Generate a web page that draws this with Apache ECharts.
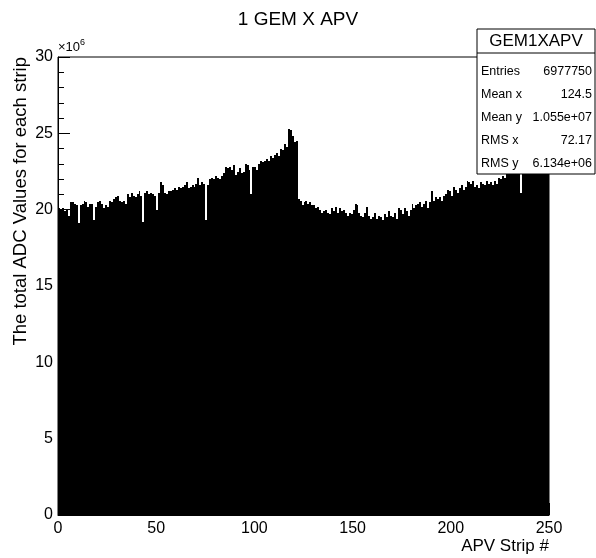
<!DOCTYPE html>
<html>
<head>
<meta charset="utf-8">
<script src="https://cdn.jsdelivr.net/npm/echarts@6/dist/echarts.min.js"></script>
<style>
html,body{margin:0;padding:0;background:#fff;}
#c{width:596px;height:558px;}
</style>
</head>
<body>
<div id="c"></div>
<script>
// Total ADC values per APV strip (units of 1e6), bins 0..249
const strips = Array.from({length: 250}, (_, i) => i);
const adcValues = [
  20.1, 20.0, 20.1, 19.9, 20.0, 19.6, 20.5, 20.5, 20.4, 20.3,
  19.1, 20.3, 20.4, 20.6, 20.5, 20.2, 20.4, 20.4, 19.3, 20.2,
  20.5, 20.6, 20.4, 20.1, 20.3, 20.2, 20.6, 20.5, 20.7, 20.8,
  20.9, 20.6, 20.5, 20.6, 20.4, 21.0, 20.8, 21.1, 20.9, 20.8,
  21.0, 21.2, 20.9, 19.2, 21.1, 21.2, 21.0, 21.1, 21.0, 20.9,
  20.0, 21.1, 21.8, 21.6, 21.1, 21.0, 21.2, 21.2, 21.3, 21.4,
  21.3, 21.5, 21.4, 21.5, 21.6, 21.8, 21.4, 21.5, 21.6, 21.5,
  21.7, 22.1, 21.6, 21.8, 21.7, 19.3, 21.6, 22.0, 22.1, 22.0,
  22.2, 22.1, 22.0, 22.2, 22.4, 22.8, 22.7, 22.8, 22.6, 22.9,
  22.3, 22.5, 22.7, 22.4, 22.5, 23.0, 22.9, 22.6, 21.0, 22.8,
  22.8, 22.6, 23.0, 23.2, 23.1, 23.2, 23.3, 23.2, 23.5, 23.4,
  23.6, 23.7, 23.5, 24.0, 23.9, 24.3, 24.1, 25.3, 25.2, 24.8,
  24.4, 24.5, 20.7, 20.6, 20.3, 20.5, 20.6, 20.4, 20.5, 20.3,
  20.3, 20.1, 20.2, 20.0, 19.8, 19.9, 20.0, 19.8, 19.7, 20.1,
  19.9, 20.2, 19.8, 20.1, 19.9, 20.0, 19.8, 19.6, 19.8, 19.7,
  20.0, 20.4, 20.3, 19.8, 19.6, 19.5, 19.8, 20.2, 19.6, 19.4,
  19.5, 19.8, 19.4, 19.6, 19.5, 19.3, 19.7, 19.5, 19.9, 19.6,
  19.5, 19.8, 19.4, 20.1, 20.0, 19.7, 20.1, 19.9, 19.6, 20.0,
  20.4, 20.1, 20.3, 20.4, 20.5, 20.2, 20.4, 20.6, 20.1, 20.5,
  21.2, 20.6, 20.8, 20.7, 20.8, 20.6, 20.9, 21.0, 21.3, 21.2,
  20.9, 21.5, 21.3, 21.1, 21.4, 21.6, 21.3, 21.5, 21.9, 21.8,
  21.7, 21.9, 21.5, 21.6, 21.4, 21.8, 21.7, 21.6, 21.9, 21.7,
  21.8, 21.6, 21.9, 21.7, 22.1, 22.0, 22.2, 22.1, 22.6, 22.8,
  22.7, 23.0, 22.9, 23.1, 22.8, 21.1, 23.0, 22.9, 23.2, 23.1,
  23.3, 23.0, 23.4, 23.2, 23.5, 23.3, 23.6, 23.4, 23.5, 23.7
];
const yTicks = [0, 5, 10, 15, 20, 25, 30];
const xTicks = [0, 50, 100, 150, 200, 250];
const statsLabels = ['Entries', 'Mean x', 'Mean y', 'RMS x', 'RMS y'];
const statsValues = ['6977750', '124.5', '1.055e+07', '72.17', '6.134e+06'];

const histData = strips.map((s, i) => [s, adcValues[i]]);

const FONT = 'Liberation Sans, Arial, Helvetica, sans-serif';
const chart = echarts.init(document.getElementById('c'), null, {renderer: 'canvas'});

const gL = 58, gT = 57, gR = 549, gB = 515;
const ZB = 100;

const statsChildren = [
  {type: 'rect', z: ZB, shape: {x: 477, y: 29, width: 118, height: 145},
   style: {fill: '#fff', stroke: '#000', lineWidth: 1}},
  {type: 'line', z: ZB + 1, shape: {x1: 477, y1: 53, x2: 595, y2: 53}, style: {stroke: '#000', lineWidth: 1}},
  {type: 'text', z: ZB + 1, x: 536, y: 41, style: {text: 'GEM1XAPV', font: '17px ' + FONT, fill: '#000', align: 'center', verticalAlign: 'middle'}}
];
statsLabels.forEach((lab, i) => {
  const y = 72 + i * 22.8;
  statsChildren.push({type: 'text', z: ZB + 1, x: 481, y: y, style: {text: lab, font: '12.5px ' + FONT, fill: '#000', align: 'left', verticalAlign: 'middle'}});
  statsChildren.push({type: 'text', z: ZB + 1, x: 592, y: y, style: {text: statsValues[i], font: '12.5px ' + FONT, fill: '#000', align: 'right', verticalAlign: 'middle'}});
});

chart.setOption({
  animation: false,
  backgroundColor: '#fff',
  title: {
    text: '1 GEM X APV', left: 'center', top: 5,
    textStyle: {fontFamily: FONT, fontWeight: 'normal', fontSize: 19, color: '#000'}
  },
  grid: {left: gL, top: gT, right: 596 - gR, bottom: 558 - gB, show: true, borderColor: '#000', borderWidth: 1, backgroundColor: 'transparent'},
  xAxis: {
    type: 'value', min: 0, max: 250, interval: 50,
    axisLine: {show: true, lineStyle: {color: '#000', width: 1}},
    axisTick: {show: true, inside: true, length: 12, lineStyle: {color: '#000'}},
    minorTick: {show: true, splitNumber: 5, length: 6, lineStyle: {color: '#000'}},
    splitLine: {show: false},
    axisLabel: {color: '#000', fontFamily: FONT, fontSize: 16, margin: 6,
      formatter: v => xTicks.includes(v) ? String(v) : ''}
  },
  yAxis: {
    type: 'value', min: 0, max: 30, interval: 5,
    axisLine: {show: true, lineStyle: {color: '#000', width: 1}},
    axisTick: {show: true, inside: true, length: 12, lineStyle: {color: '#000'}},
    minorTick: {show: true, splitNumber: 5, length: 6, lineStyle: {color: '#000'}},
    splitLine: {show: false},
    axisLabel: {color: '#000', fontFamily: FONT, fontSize: 16, margin: 5,
      formatter: v => yTicks.includes(v) ? String(v) : ''}
  },
  series: [{
    type: 'custom',
    data: histData,
    encode: {x: 0, y: 1},
    z: 2,
    renderItem: function (params, api) {
      const x0 = api.value(0);
      const v = api.value(1);
      const p0 = api.coord([x0, v]);
      const p1 = api.coord([x0 + 1, 0]);
      const xa = Math.round(p0[0]);
      const xb = Math.round(p1[0]);
      const yt = Math.round(p0[1]);
      const yb = Math.round(p1[1]);
      return {
        type: 'rect',
        shape: {x: xa, y: yt, width: Math.max(1, xb - xa), height: yb - yt},
        style: {fill: '#000', stroke: null}
      };
    }
  }],
  graphic: [
    {type: 'text', x: gL, y: 47, z: 50,
     style: {text: '{a|×10}{b|6}', fill: '#000', align: 'left', verticalAlign: 'middle',
       rich: {a: {fontFamily: FONT, fontSize: 13, color: '#000'}, b: {fontFamily: FONT, fontSize: 9, color: '#000', verticalAlign: 'top', padding: [0, 0, 8, 0]}}}},
    {type: 'text', x: 21, y: gT, rotation: Math.PI / 2, z: 50,
     style: {text: 'The total ADC Values for each strip', font: '18.5px ' + FONT, fill: '#000', align: 'right', verticalAlign: 'middle'}},
    {type: 'text', x: gR, y: 546, z: 50,
     style: {text: 'APV Strip #', font: '17px ' + FONT, fill: '#000', align: 'right', verticalAlign: 'middle'}},
    {type: 'group', children: statsChildren}
  ]
});
</script>
</body>
</html>
